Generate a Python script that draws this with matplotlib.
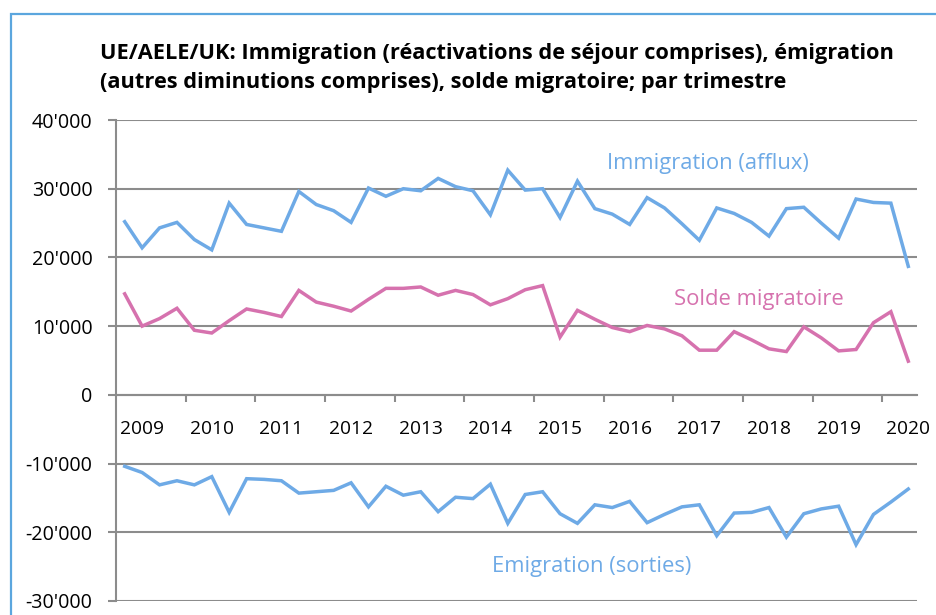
import matplotlib
matplotlib.use("Agg")
import matplotlib.pyplot as plt
from matplotlib.patches import Rectangle
from matplotlib.ticker import FuncFormatter, FixedLocator

plt.rcParams["font.family"] = ["Open Sans", "DejaVu Sans"]

# quarterly values, 2009 Q1 .. 2020 Q2
immigration = [25200, 21400, 24300, 25100, 22600, 21100, 27900, 24800, 24300, 23800,
               29600, 27700, 26800, 25100, 30100, 28900, 30000, 29700, 31500, 30300,
               29700, 26200, 32700, 29800, 30000, 25800, 31100, 27100, 26300, 24800,
               28700, 27200, 24900, 22500, 27200, 26400, 25100, 23100, 27100, 27300,
               25000, 22800, 28500, 28000, 27900, 18700]
emigration = [-10400, -11300, -13100, -12500, -13100, -11900, -17100, -12200, -12300, -12500,
              -14300, -14100, -13900, -12800, -16300, -13300, -14600, -14100, -17000, -14900,
              -15100, -13000, -18700, -14500, -14100, -17300, -18700, -16000, -16400, -15500,
              -18600, -17400, -16300, -16000, -20500, -17200, -17100, -16400, -20700, -17300,
              -16600, -16200, -21800, -17400, -15600, -13700]
solde = [14700, 10000, 11100, 12600, 9400, 9000, 10800, 12500, 12000, 11400,
         15200, 13500, 12900, 12200, 13900, 15500, 15500, 15700, 14500, 15200,
         14600, 13100, 14000, 15300, 15900, 8400, 12300, 11000, 9800, 9200,
         10100, 9600, 8600, 6500, 6500, 9200, 8000, 6700, 6300, 9900,
         8300, 6400, 6600, 10500, 12100, 4900]
years = [str(y) for y in range(2009, 2021)]

BLUE = "#6eaae6"
PINK = "#d672ae"
GRID = "#8c8c8c"

fig = plt.figure(figsize=(9.36, 6.15), dpi=100)
W, H = 936, 615
ax = fig.add_axes([116 / W, 1 - 601 / H, (917 - 116) / W, (601 - 120) / H])

# outer chart frame
fig.patches.append(Rectangle((11 / W, -0.1), 1.2, 1 - 14 / H + 0.1, transform=fig.transFigure,
                             fill=False, edgecolor="#5ba6de", linewidth=1.6))

x = list(range(len(immigration)))
ax.plot(x, immigration, color=BLUE, lw=2.5, solid_joinstyle="miter")
ax.plot(x, emigration, color=BLUE, lw=2.5, solid_joinstyle="miter")
ax.plot(x, solde, color=PINK, lw=2.5, solid_joinstyle="miter")

ax.set_xlim(-0.5, len(x) - 0.5)
ax.set_ylim(-30000, 40000)
ax.set_yticks(range(-30000, 40001, 10000))
ax.yaxis.set_major_formatter(FuncFormatter(lambda v, p: f"{int(v):,}".replace(",", "'")))
ax.grid(axis="y", color=GRID, lw=1.5)
ax.set_axisbelow(True)

for s in ["top", "right"]:
    ax.spines[s].set_visible(False)
ax.spines["left"].set_color(GRID)
ax.spines["left"].set_linewidth(1.5)
ax.spines["bottom"].set_position(("data", 0))
ax.spines["bottom"].set_color(GRID)
ax.spines["bottom"].set_linewidth(1.5)

ax.xaxis.set_major_locator(FixedLocator([3.5 + 4 * k for k in range(11)]))
ax.xaxis.set_minor_locator(FixedLocator([1 + 4 * k for k in range(len(years))]))
ax.set_xticklabels([], minor=False)
ax.set_xticklabels(years, minor=True)
ax.tick_params(axis="x", which="major", length=5, width=1.5, color=GRID)
ax.tick_params(axis="x", which="minor", length=0, pad=18, labelsize=13.8)
ax.tick_params(axis="y", length=6, width=1.5, color=GRID, pad=11, labelsize=14.2)

ax.text(33.5, 33700, "Immigration (afflux)", color=BLUE, fontsize=15.8, ha="center", va="center")
ax.text(36.4, 13950, "Solde migratoire", color=PINK, fontsize=15.8, ha="center", va="center")
ax.text(26.8, -25000, "Emigration (sorties)", color=BLUE, fontsize=15.8, ha="center", va="center")

fig.text(100 / W, 1 - 68 / H,
         "UE/AELE/UK: Immigration (réactivations de séjour comprises), émigration\n"
         "(autres diminutions comprises), solde migratoire; par trimestre",
         fontsize=15.7, fontweight="bold", ha="left", va="center", linespacing=1.5)

fig.savefig("out.png", dpi=100)
